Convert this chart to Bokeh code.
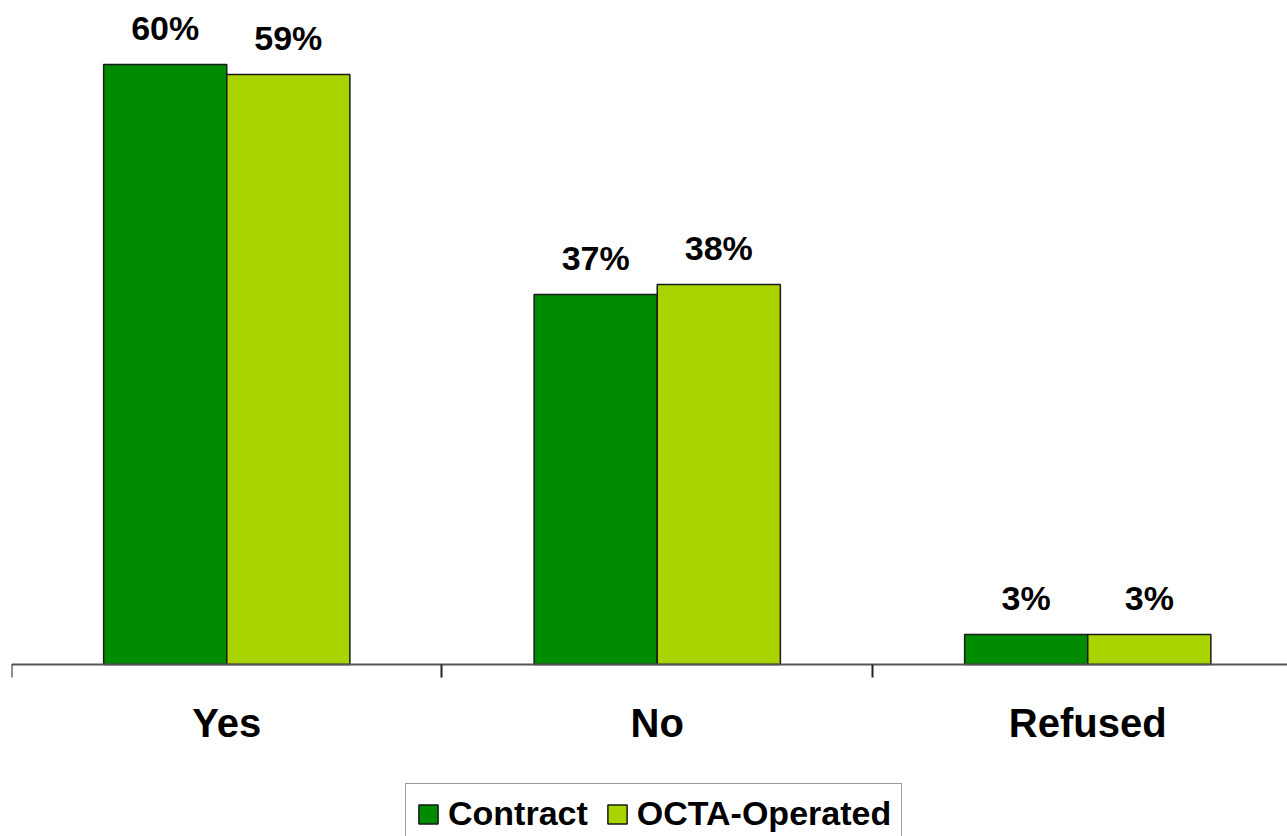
import numpy as np
from bokeh.plotting import figure
from bokeh.models import ColumnDataSource, Range1d, FixedTicker, Legend, LegendItem
from bokeh.core.properties import value
from bokeh.embed import file_html
from bokeh.resources import INLINE

categories = ["Yes", "No", "Refused"]
contract = [60, 37, 3]
octa = [59, 38, 3]
series_names = ["Contract", "OCTA-Operated"]
colors = ["#008C00", "#AAD400"]

FONT = "Liberation Sans"

p = figure(width=1287, height=836, output_backend="svg", toolbar_location=None,
           x_range=Range1d(0, 2.964), y_range=Range1d(-17.2, 65.6),
           min_border_left=11, min_border_right=0, min_border_top=8, min_border_bottom=0)
p.outline_line_color = None
p.grid.visible = False
p.yaxis.visible = False

centers = np.arange(len(categories)) + 0.5
bw = 0.286
offsets = [-bw / 2, bw / 2]

renderers = []
for vals, name, col, off in zip([contract, octa], series_names, colors, offsets):
    src = ColumnDataSource(dict(x=centers + off, top=vals,
                                lab=[f"{v}%" for v in vals]))
    r = p.vbar(x="x", top="top", width=bw, source=src, fill_color=col,
               line_color="#1a1a1a", line_width=1.5)
    renderers.append(r)
    p.text(x="x", y="top", text="lab", source=src, text_align="center",
           text_baseline="alphabetic", y_offset=-37,
           text_font=value(FONT), text_font_style="bold", text_font_size="34px",
           text_color="black")

# category labels under the baseline
cat_src = ColumnDataSource(dict(x=centers, y=[0] * len(categories), t=categories))
p.text(x="x", y="y", text="t", source=cat_src, text_align="center",
       text_baseline="top", y_offset=36, text_font=value(FONT),
       text_font_style="bold", text_font_size="40px", text_color="black")

ax = p.xaxis[0]
ax.fixed_location = 0
ax.ticker = FixedTicker(ticks=list(centers), minor_ticks=[0, 1, 2, 3])
ax.major_label_overrides = {float(c): "" for c in centers}
ax.major_label_text_font_size = "0px"
ax.major_label_standoff = 0
ax.major_tick_out = 0
ax.major_tick_in = 0
ax.minor_tick_out = 13
ax.minor_tick_in = 0
ax.minor_tick_line_color = "#222222"
ax.minor_tick_line_width = 2
ax.axis_line_color = "#555555"
ax.axis_line_width = 2

legend = Legend(items=[LegendItem(label=n, renderers=[r]) for n, r in zip(series_names, renderers)],
                orientation="horizontal", location=(394, -8),
                glyph_width=24, glyph_height=24, label_standoff=8, spacing=17,
                padding=10, label_text_font=FONT, label_text_font_style="bold",
                label_text_font_size="34px", label_text_color="black",
                border_line_color="#333333", border_line_width=1.5,
                background_fill_alpha=1)
p.add_layout(legend, "center")

open("out.html", "w").write(file_html(p, INLINE))
